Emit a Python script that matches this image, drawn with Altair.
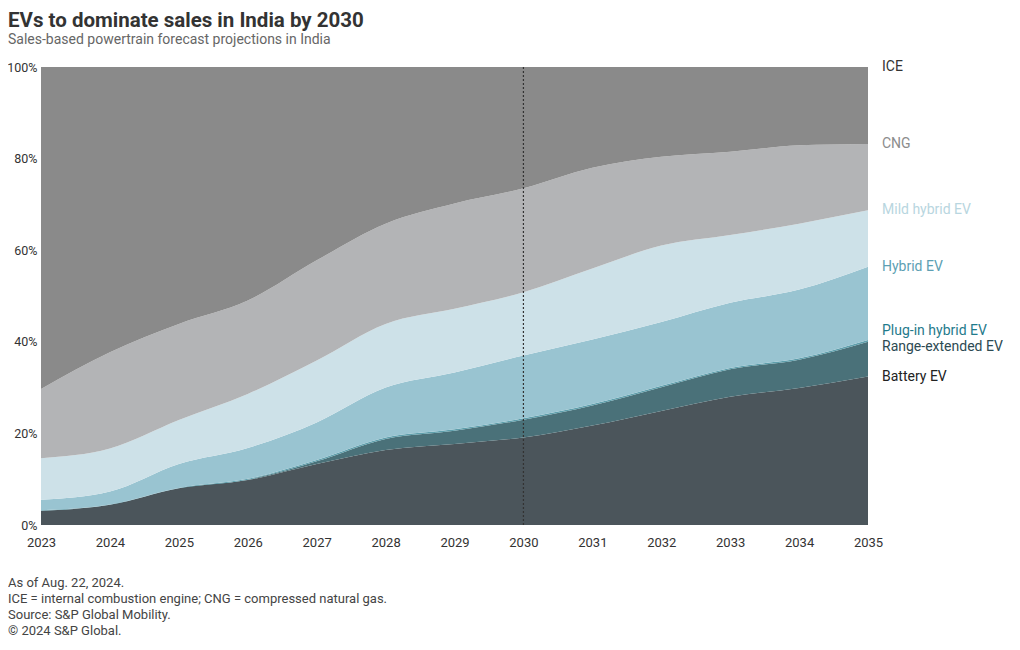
import altair as alt
import pandas as pd

years = list(range(2023, 2036))
series = ["Battery EV", "Range-extended EV", "Plug-in hybrid EV", "Hybrid EV",
          "Mild hybrid EV", "CNG", "ICE"]
battery_ev = [3.1, 4.4, 8.0, 9.8, 13.3, 16.4, 17.7, 19.1, 21.7, 24.9, 28.0, 29.9, 32.4]
range_ext = [0.0, 0.0, 0.0, 0.1, 0.6, 2.4, 2.9, 3.9, 4.4, 5.2, 6.0, 6.2, 7.6]
plugin = [0.1, 0.1, 0.1, 0.2, 0.3, 0.3, 0.3, 0.3, 0.3, 0.3, 0.3, 0.3, 0.4]
hybrid = [2.3, 2.8, 5.2, 6.7, 8.2, 10.9, 12.4, 13.7, 14.1, 13.9, 14.2, 15.0, 16.0]
mild = [9.1, 9.4, 9.6, 11.8, 13.5, 13.9, 13.9, 13.8, 15.5, 16.7, 14.8, 14.4, 12.3]
cng = [15.1, 21.0, 21.0, 20.4, 21.9, 21.9, 23.0, 22.7, 22.0, 19.4, 18.2, 17.1, 14.5]
ice = [70.3, 62.3, 56.1, 51.0, 42.2, 34.2, 29.8, 26.5, 22.0, 19.6, 18.5, 17.1, 16.8]
area_colors = ["#4b555b", "#4a7179", "#5f9fac", "#99c4d1", "#cde1e8", "#b3b4b6", "#8a8a8a"]
label_colors = ["#222222", "#2d4a52", "#1f7b8c", "#5d9fb3", "#b8d6e0", "#8c8c8c", "#333333"]
footnotes = ["As of Aug. 22, 2024.",
             "ICE = internal combustion engine; CNG = compressed natural gas.",
             "Source: S&P Global Mobility.",
             "\u00a9 2024 S&P Global."]

FONT = "Roboto"
values = [battery_ev, range_ext, plugin, hybrid, mild, cng, ice]
rows = []
for i, (s, vals) in enumerate(zip(series, values)):
    for y, v in zip(years, vals):
        rows.append({"year": y, "series": s, "value": v, "ord": i})
df = pd.DataFrame(rows)

# label table: cumulative top of each series at the last year
tops = []
cum = 0.0
for s, vals, c in zip(series, values, label_colors):
    cum += vals[-1]
    tops.append({"series": s, "top": min(cum, 100.0), "year": years[-1], "color": c})
lab = pd.DataFrame(tops)

W, H = 827, 458

x_enc = alt.X("year:Q", scale=alt.Scale(domain=[2023, 2035], nice=False, zero=False),
              axis=alt.Axis(values=years, format="d", title=None, ticks=False, domain=False,
                            grid=False, labelPadding=11, labelFontSize=13, labelColor="#333",
                            labelFont=FONT, labelFlush=False))
y_scale = alt.Scale(domain=[0, 100], nice=False)

areas = alt.Chart(df).mark_area(interpolate="monotone").encode(
    x=x_enc,
    y=alt.Y("value:Q", stack="zero", scale=y_scale,
            axis=alt.Axis(values=[0, 20, 40, 60, 80, 100], labelExpr="datum.value + '%'",
                          title=None, ticks=False, domain=False, grid=False, labelPadding=4,
                          labelFontSize=12.5, labelColor="#333", labelFont=FONT)),
    color=alt.Color("series:N", scale=alt.Scale(domain=series, range=area_colors), legend=None),
    order=alt.Order("ord:Q", sort="ascending"),
)

rule = alt.Chart(pd.DataFrame({"year": [2030]})).mark_rule(
    color="#333333", strokeDash=[2, 2], strokeWidth=1.2).encode(
    x=alt.X("year:Q"), y=alt.value(0), y2=alt.value(H))

def label_layer(names, dy):
    return alt.Chart(lab).transform_filter(
        alt.FieldOneOfPredicate(field="series", oneOf=names)
    ).mark_text(align="left", baseline="middle", dx=14, dy=dy, fontSize=14, font=FONT).encode(
        x=alt.X("year:Q"),
        y=alt.Y("top:Q", scale=y_scale),
        text="series:N",
        color=alt.Color("color:N", scale=None),
    )

labels_main = label_layer(["Battery EV", "Hybrid EV", "Mild hybrid EV", "CNG", "ICE"], 0)
labels_phev = label_layer(["Plug-in hybrid EV"], -9)
labels_rev = label_layer(["Range-extended EV"], 5)

title = alt.Chart(pd.DataFrame({"t": ["EVs to dominate sales in India by 2030"]})).mark_text(
    align="left", baseline="alphabetic", fontSize=20.5, fontWeight="bold", font=FONT, color="#333333"
).encode(x=alt.value(-33), y=alt.value(-40), text="t:N")

subtitle = alt.Chart(pd.DataFrame({"t": ["Sales-based powertrain forecast projections in India"]})).mark_text(
    align="left", baseline="alphabetic", fontSize=14, font=FONT, color="#666666"
).encode(x=alt.value(-33), y=alt.value(-23), text="t:N")

foot = alt.Chart(pd.DataFrame({"t": ["\n".join(footnotes)]})).mark_text(
    align="left", baseline="alphabetic", fontSize=13, font=FONT, color="#444444",
    lineBreak="\n", lineHeight=16
).encode(x=alt.value(-33), y=alt.value(H + 62), text="t:N")

chart = alt.layer(areas, rule, labels_main, labels_phev, labels_rev, title, subtitle, foot).properties(
    width=W, height=H,
    autosize=alt.AutoSizeParams(type="none"),
    padding={"left": 33, "top": 59, "right": 140, "bottom": 114},
).configure_view(stroke=None)

chart.save("out.html", embed_options={"renderer": "svg", "actions": False})
